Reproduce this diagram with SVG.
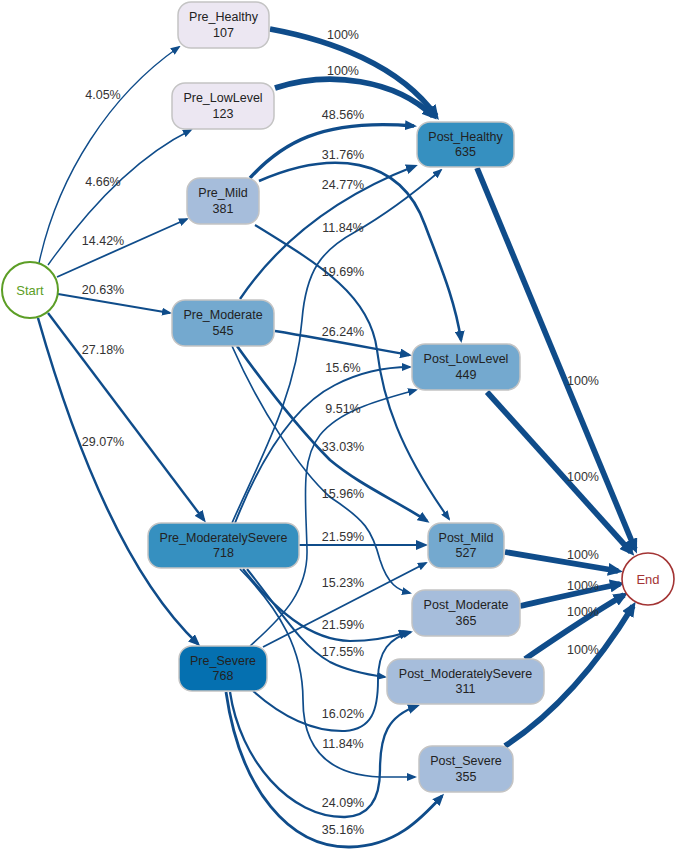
<svg xmlns="http://www.w3.org/2000/svg" width="676" height="850" viewBox="0 0 676 850">
<style>
.e{fill:none;stroke:#0f4c8a;stroke-linecap:butt}
.n rect{stroke:#c4c4c4;stroke-width:1.5}
.t{font-family:"Liberation Sans",Arial,sans-serif;font-size:12.5px;fill:#222;text-anchor:middle}
.l{font-family:"Liberation Sans",Arial,sans-serif;font-size:12.5px;fill:#333;text-anchor:middle}
.c1{fill:#ece7f2}.c2{fill:#a6bddb}.c3{fill:#74a9cf}.c4{fill:#3690c0}.c5{fill:#0570b0}
</style>
<defs>
<marker id="sm" markerUnits="userSpaceOnUse" markerWidth="10" markerHeight="8" refX="8" refY="4" orient="auto"><path d="M0,0 L10,4 L0,8 z" fill="#0f4c8a"/></marker>
<marker id="md" markerUnits="userSpaceOnUse" markerWidth="12" markerHeight="10" refX="9" refY="5" orient="auto"><path d="M0,0 L12,5 L0,10 z" fill="#0f4c8a"/></marker>
<marker id="lg" markerUnits="userSpaceOnUse" markerWidth="15" markerHeight="13" refX="10" refY="6.5" orient="auto"><path d="M0,0 L15,6.5 L0,13 z" fill="#0f4c8a"/></marker>
</defs>
<rect width="676" height="850" fill="#fff"/>
<g id="connectors">
<path class="e" stroke-width="1.4" marker-end="url(#sm)" d="M39,263 C58,175 110,95 179,47"/>
<path class="e" stroke-width="1.4" marker-end="url(#sm)" d="M48,265 C80,220 130,160 191,130"/>
<path class="e" stroke-width="1.8" marker-end="url(#sm)" d="M57,277 L187,219"/>
<path class="e" stroke-width="2.1" marker-end="url(#sm)" d="M58,294 L170,313"/>
<path class="e" stroke-width="2.4" marker-end="url(#md)" d="M48,313 L204,520"/>
<path class="e" stroke-width="2.5" marker-end="url(#md)" d="M38,318 C70,430 120,570 198,644"/>
<path class="e" stroke-width="5.7" marker-end="url(#lg)" d="M270,29 C330,40 400,65 436,116"/>
<path class="e" stroke-width="5.7" marker-end="url(#lg)" d="M275,88 C330,70 395,80 433,116"/>
<path class="e" stroke-width="3.4" marker-end="url(#md)" d="M250,178 C280,145 320,118 414,126"/>
<path class="e" stroke-width="2.6" marker-end="url(#md)" d="M259,181 C330,150 400,155 425,225 C440,265 455,300 461,340"/>
<path class="e" stroke-width="2.1" marker-end="url(#sm)" d="M255,225 C320,265 370,295 377,350 C383,400 400,450 449,519"/>
<path class="e" stroke-width="2.3" marker-end="url(#md)" d="M240,299 C280,240 340,195 415,166"/>
<path class="e" stroke-width="1.7" marker-end="url(#sm)" d="M232,523 C262,455 296,395 302,320 C306,270 322,250 355,232 C390,212 420,188 441,170"/>
<path class="e" stroke-width="1.9" marker-end="url(#sm)" d="M235,523 C262,455 295,405 335,385 C362,371 390,367 410,367"/>
<path class="e" stroke-width="2.4" marker-end="url(#md)" d="M275,331 C330,340 370,348 409,355"/>
<path class="e" stroke-width="2.7" marker-end="url(#md)" d="M237,346 C265,385 300,430 330,460 C360,485 395,500 427,521"/>
<path class="e" stroke-width="1.7" marker-end="url(#sm)" d="M232,346 C260,410 300,470 330,497 C365,520 372,530 380,560 C388,585 398,590 410,593"/>
<path class="e" stroke-width="2.2" marker-end="url(#md)" d="M299,545 L425,545"/>
<path class="e" stroke-width="2.2" marker-end="url(#md)" d="M243,569 C275,610 310,640 350,641 C375,641 395,636 408,632"/>
<path class="e" stroke-width="2.0" marker-end="url(#sm)" d="M247,569 C280,610 300,645 330,662 C350,672 370,675 385,677"/>
<path class="e" stroke-width="1.7" marker-end="url(#sm)" d="M240,569 C280,610 303,650 303,700 C303,750 330,775 380,777 L415,777"/>
<path class="e" stroke-width="1.6" marker-end="url(#sm)" d="M250,646 C285,615 308,590 307,550 C306,500 300,460 320,435 C340,410 380,400 416,390"/>
<path class="e" stroke-width="1.9" marker-end="url(#sm)" d="M263,647 L426,563"/>
<path class="e" stroke-width="1.9" marker-end="url(#sm)" d="M253,691 C280,715 310,732 345,731 C372,729 378,710 378,680 C378,650 390,638 411,632"/>
<path class="e" stroke-width="2.3" marker-end="url(#md)" d="M230,692 C240,760 290,818 345,817 C372,816 380,795 380,770 C380,735 388,716 417,706"/>
<path class="e" stroke-width="2.8" marker-end="url(#md)" d="M226,692 C240,790 290,848 350,847 C395,846 420,820 442,796"/>
<path class="e" stroke-width="5.7" marker-end="url(#lg)" d="M477,168 L635,549"/>
<path class="e" stroke-width="5.7" marker-end="url(#lg)" d="M487,392 L631,552"/>
<path class="e" stroke-width="5.7" marker-end="url(#lg)" d="M505,552 L618,571"/>
<path class="e" stroke-width="5.7" marker-end="url(#lg)" d="M520,606 C560,597 595,589 620,584"/>
<path class="e" stroke-width="5.7" marker-end="url(#lg)" d="M525,659 C560,635 595,612 624,595"/>
<path class="e" stroke-width="5.7" marker-end="url(#lg)" d="M505,746 C560,710 600,660 633,606"/>
</g>
<g id="labels">
<text class="l" x="103" y="99">4.05%</text>
<text class="l" x="103" y="186">4.66%</text>
<text class="l" x="103" y="245">14.42%</text>
<text class="l" x="103" y="294">20.63%</text>
<text class="l" x="103" y="354">27.18%</text>
<text class="l" x="103" y="446">29.07%</text>
<text class="l" x="343" y="39">100%</text>
<text class="l" x="343" y="75">100%</text>
<text class="l" x="343" y="119">48.56%</text>
<text class="l" x="343" y="159">31.76%</text>
<text class="l" x="343" y="189">24.77%</text>
<text class="l" x="343" y="232">11.84%</text>
<text class="l" x="343" y="276">19.69%</text>
<text class="l" x="343" y="336">26.24%</text>
<text class="l" x="343" y="372">15.6%</text>
<text class="l" x="343" y="413">9.51%</text>
<text class="l" x="343" y="451">33.03%</text>
<text class="l" x="343" y="498">15.96%</text>
<text class="l" x="343" y="541">21.59%</text>
<text class="l" x="343" y="587">15.23%</text>
<text class="l" x="343" y="629">21.59%</text>
<text class="l" x="343" y="656">17.55%</text>
<text class="l" x="343" y="718">16.02%</text>
<text class="l" x="343" y="748">11.84%</text>
<text class="l" x="343" y="807">24.09%</text>
<text class="l" x="343" y="834">35.16%</text>
<text class="l" x="583" y="385">100%</text>
<text class="l" x="583" y="481">100%</text>
<text class="l" x="583" y="559">100%</text>
<text class="l" x="583" y="590">100%</text>
<text class="l" x="583" y="616">100%</text>
<text class="l" x="583" y="654">100%</text>
</g>
<g id="Start"><circle cx="30" cy="290" r="28" fill="#fff" stroke="#5c9e26" stroke-width="2"/><text x="30" y="295" font-family="Liberation Sans,Arial,sans-serif" font-size="13" fill="#5c9e26" text-anchor="middle">Start</text></g>
<g id="End"><circle cx="648" cy="579" r="26" fill="#fff" stroke="#a33434" stroke-width="1.6"/><text x="648" y="584" font-family="Liberation Sans,Arial,sans-serif" font-size="13" fill="#a33434" text-anchor="middle">End</text></g>
<g id="Pre_Healthy" class="n"><rect class="c1" x="178" y="2" width="91" height="46" rx="13"/><text class="t" x="223.5" y="21">Pre_Healthy</text><text class="t" x="223.5" y="36.5">107</text></g>
<g id="Pre_LowLevel" class="n"><rect class="c1" x="172" y="83" width="102" height="46" rx="13"/><text class="t" x="223" y="102">Pre_LowLevel</text><text class="t" x="223" y="117.5">123</text></g>
<g id="Pre_Mild" class="n"><rect class="c2" x="187" y="178" width="72" height="46" rx="13"/><text class="t" x="223" y="197">Pre_Mild</text><text class="t" x="223" y="212.5">381</text></g>
<g id="Pre_Moderate" class="n"><rect class="c3" x="172" y="300" width="102" height="46" rx="13"/><text class="t" x="223" y="319">Pre_Moderate</text><text class="t" x="223" y="334.5">545</text></g>
<g id="Pre_ModeratelySevere" class="n"><rect class="c4" x="148" y="523" width="151" height="45" rx="13"/><text class="t" x="223.5" y="541.5">Pre_ModeratelySevere</text><text class="t" x="223.5" y="557">718</text></g>
<g id="Pre_Severe" class="n"><rect class="c5" x="179" y="646" width="88" height="45" rx="13"/><text class="t" x="223" y="664.5">Pre_Severe</text><text class="t" x="223" y="680">768</text></g>
<g id="Post_Healthy" class="n"><rect class="c4" x="417" y="122" width="97" height="45" rx="13"/><text class="t" x="465.5" y="140.5">Post_Healthy</text><text class="t" x="465.5" y="156">635</text></g>
<g id="Post_LowLevel" class="n"><rect class="c3" x="412" y="344" width="108" height="46" rx="13"/><text class="t" x="466" y="363">Post_LowLevel</text><text class="t" x="466" y="378.5">449</text></g>
<g id="Post_Mild" class="n"><rect class="c3" x="428" y="523" width="76" height="45" rx="13"/><text class="t" x="466" y="541.5">Post_Mild</text><text class="t" x="466" y="557">527</text></g>
<g id="Post_Moderate" class="n"><rect class="c2" x="412" y="590" width="108" height="46" rx="13"/><text class="t" x="466" y="609">Post_Moderate</text><text class="t" x="466" y="624.5">365</text></g>
<g id="Post_ModeratelySevere" class="n"><rect class="c2" x="387" y="659" width="157" height="45" rx="13"/><text class="t" x="465.5" y="677.5">Post_ModeratelySevere</text><text class="t" x="465.5" y="693">311</text></g>
<g id="Post_Severe" class="n"><rect class="c2" x="419" y="746" width="94" height="46" rx="13"/><text class="t" x="466" y="765">Post_Severe</text><text class="t" x="466" y="780.5">355</text></g>
</svg>
